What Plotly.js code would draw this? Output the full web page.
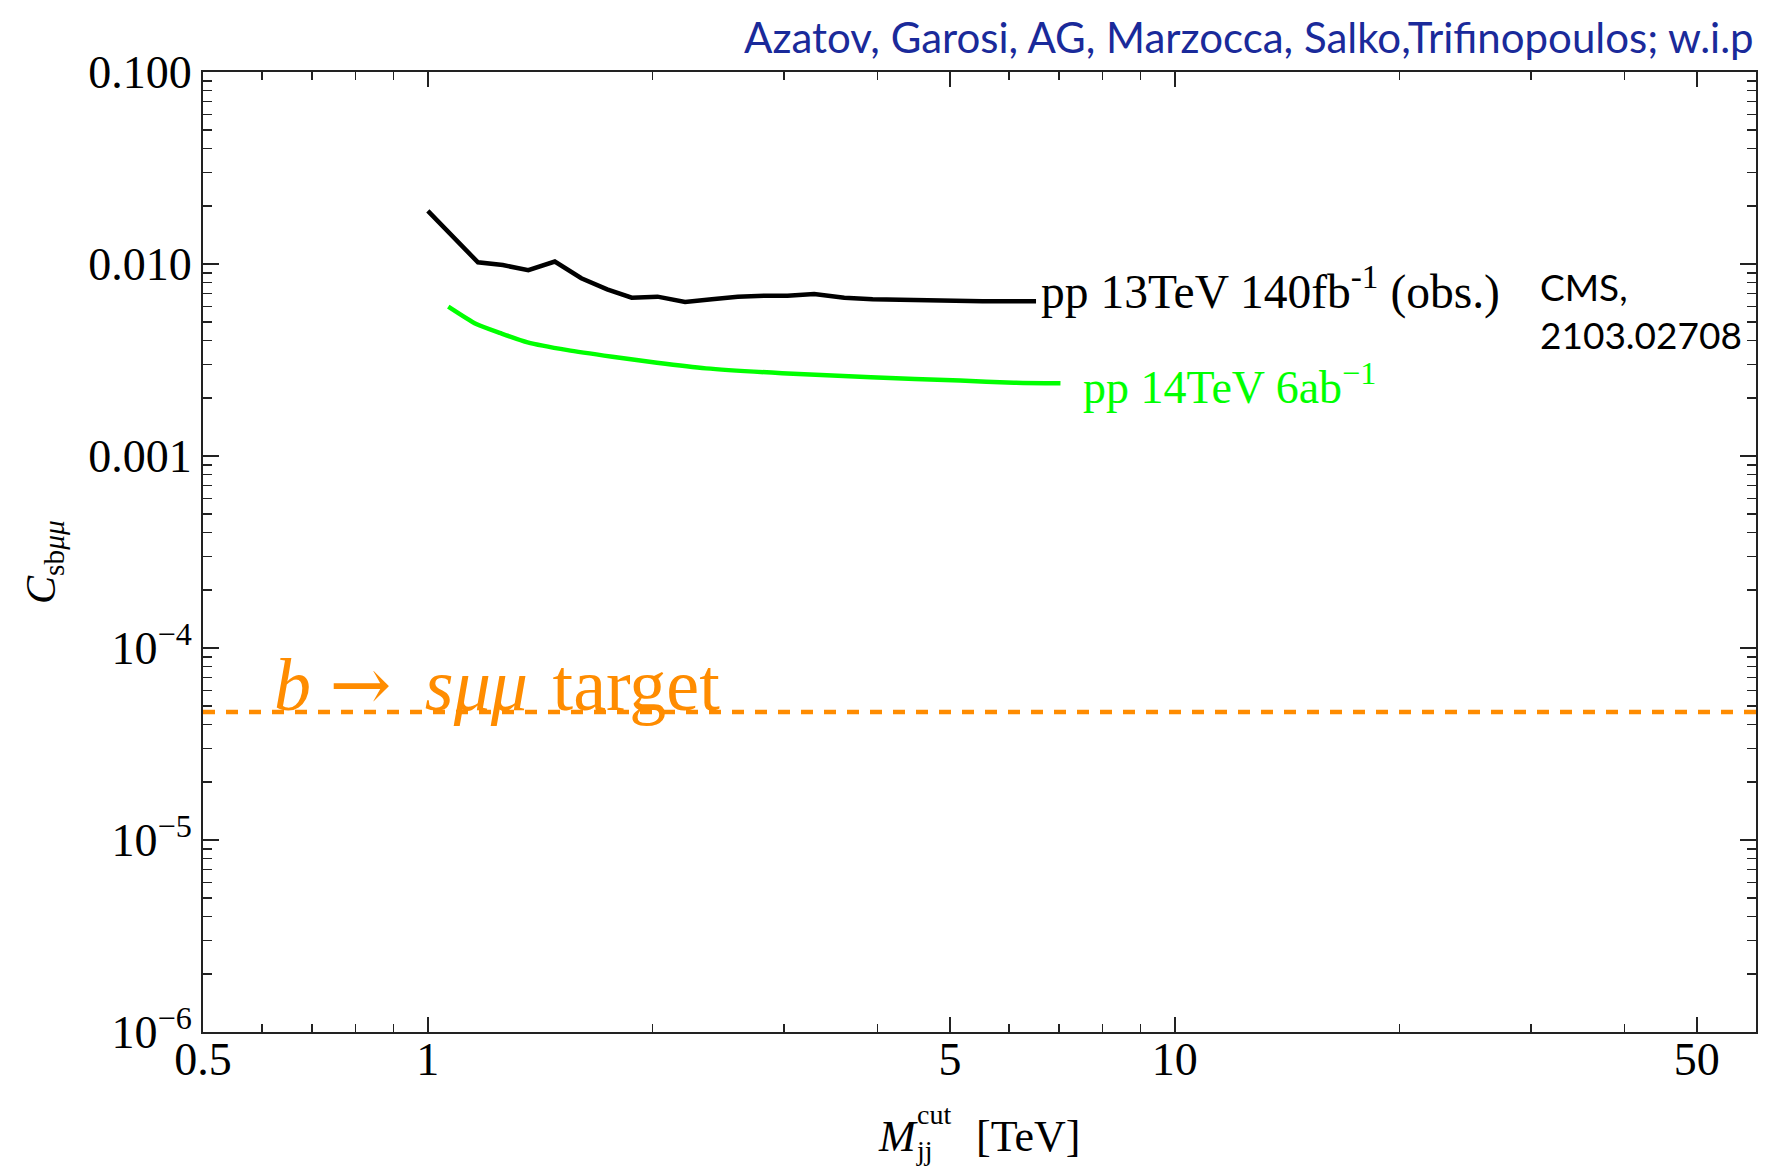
<!DOCTYPE html>
<html>
<head>
<meta charset="utf-8">
<script src="https://cdn.plot.ly/plotly-3.0.1.min.js"></script>
<style>html,body{margin:0;padding:0;background:#fff;}#chart{width:1767px;height:1166px;}</style>
</head>
<body>
<div id="chart"></div>
<script>
// ---- Data ----
const obsX = [1.0, 1.167, 1.26, 1.363, 1.479, 1.605, 1.738, 1.875, 2.03, 2.21, 2.40, 2.60, 2.82, 3.03, 3.29, 3.61, 3.94, 4.38, 4.89, 5.53, 6.52];
const obsY = [0.0189, 0.0102, 0.00987, 0.00929, 0.0103, 0.00843, 0.00738, 0.00668, 0.00676, 0.00634, 0.00655, 0.00676, 0.00684, 0.00684, 0.00698, 0.00668, 0.00656, 0.0065, 0.00643, 0.0064, 0.0064];
const hlX = [1.065, 1.161, 1.252, 1.36, 1.539, 1.766, 2.026, 2.357, 2.98, 3.92, 5.16, 6.09, 7.03];
const hlY = [0.0060, 0.00487, 0.00436, 0.00391, 0.00356, 0.00329, 0.00306, 0.00286, 0.00270, 0.00257, 0.00247, 0.00241, 0.00239];
const targetX = [0.5, 60];
const targetY = [4.64e-5, 4.64e-5];

const xTickVals = [0.5, 1, 5, 10, 50];
const xTickText = ["0.5", "1", "5", "10", "50"];
const xMinorVals = [0.6, 0.7, 0.8, 0.9, 2, 3, 4, 6, 7, 8, 9, 20, 30, 40];
const yTickVals = [1e-6, 1e-5, 1e-4, 1e-3, 1e-2, 1e-1];
const yTickText = ["10<sup>\u22126</sup>", "10<sup>\u22125</sup>", "10<sup>\u22124</sup>", "0.001", "0.010", "0.100"];
const yMinorVals = [];
[1e-6, 1e-5, 1e-4, 1e-3, 1e-2].forEach(d => { for (let k = 2; k <= 9; k++) yMinorVals.push(+(d * k).toPrecision(3)); });

// ---- Layout geometry ----
const W = 1767, H = 1166;
const L = 203, R = 11, T = 72, B = 134;
const PW = W - L - R, PH = H - T - B;
const px = x => (x - L) / PW;
const py = y => (H - B - y) / PH;

const serif = "Liberation Serif, Times New Roman, serif";
const sans = "Lato, Open Sans, sans-serif";

const traces = [
  { x: obsX, y: obsY, type: "scatter", mode: "lines", line: { color: "#000000", width: 4.5 }, hoverinfo: "skip" },
  { x: hlX, y: hlY, type: "scatter", mode: "lines", line: { color: "#00ff00", width: 4.5, shape: "spline", smoothing: 0.6 }, hoverinfo: "skip" },
  { x: targetX, y: targetY, type: "scatter", mode: "lines", line: { color: "#ff8c00", width: 4.5, dash: "12px,11px" }, hoverinfo: "skip" }
];

const layout = {
  width: W, height: H,
  margin: { l: L, r: R, t: T, b: B, pad: 0 },
  paper_bgcolor: "#ffffff", plot_bgcolor: "#ffffff",
  showlegend: false,
  xaxis: {
    type: "log", range: [Math.log10(0.5), Math.log10(60)],
    tickmode: "array", tickvals: xTickVals, ticktext: xTickText,
    ticks: "inside", ticklen: 15, tickwidth: 1.5, tickcolor: "#222",
    ticklabelstandoff: -14,
    minor: { tickmode: "array", tickvals: xMinorVals, ticks: "inside", ticklen: 8, tickwidth: 1.5, tickcolor: "#222", showgrid: false },
    showline: true, linecolor: "#222", linewidth: 2, mirror: "allticks",
    showgrid: false, zeroline: false,
    tickfont: { family: serif, size: 46, color: "#000" }
  },
  yaxis: {
    type: "log", range: [-6, -1],
    tickmode: "array", tickvals: yTickVals, ticktext: yTickText,
    ticks: "inside", ticklen: 16, tickwidth: 1.5, tickcolor: "#222",
    minor: { tickmode: "array", tickvals: yMinorVals, ticks: "inside", ticklen: 9, tickwidth: 1.5, tickcolor: "#222", showgrid: false },
    showline: true, linecolor: "#222", linewidth: 2, mirror: "allticks",
    showgrid: false, zeroline: false,
    tickfont: { family: serif, size: 46, color: "#000" }
  },
  annotations: [
    { xref: "paper", yref: "paper", x: px(1756), y: py(37), xanchor: "right", yanchor: "middle",
      text: "Azatov, Garosi, AG, Marzocca, Salko,Trifinopoulos; w.i.p", showarrow: false,
      font: { family: sans, size: 42, color: "#1a2a9a" } },
    { xref: "paper", yref: "paper", x: px(1039), y: py(288), xanchor: "left", yanchor: "middle",
      text: "pp 13TeV 140fb<sup>-1</sup> (obs.)", showarrow: false,
      font: { family: serif, size: 47.5, color: "#000" } },
    { xref: "paper", yref: "paper", x: px(1538), y: py(310), xanchor: "left", yanchor: "middle", align: "left",
      text: "CMS,<br>2103.02708", showarrow: false,
      font: { family: sans, size: 37, color: "#000" } },
    { xref: "paper", yref: "paper", x: px(1081), y: py(384), xanchor: "left", yanchor: "middle",
      text: "pp 14TeV 6ab<sup>\u22121</sup>", showarrow: false,
      font: { family: serif, size: 46, color: "#00ff00" } },
    { xref: "paper", yref: "paper", x: px(272), y: py(684), xanchor: "left", yanchor: "middle",
      text: "<i>b</i> <span style=\"font-family:'DejaVu Serif'\">\u2192</span> \u2009<i>s\u03bc\u03bc</i> \u200atarget", showarrow: false,
      font: { family: serif, size: 74, color: "#ff8c00" } },
    { xref: "paper", yref: "paper", x: px(44), y: py(562), xanchor: "center", yanchor: "middle", textangle: -90,
      text: "<i>C</i><sub>sb<i>\u03bc\u03bc</i></sub>", showarrow: false,
      font: { family: serif, size: 42, color: "#000" } },
    { xref: "paper", yref: "paper", x: px(876), y: py(1136), xanchor: "left", yanchor: "middle",
      text: "<i>M</i>", showarrow: false,
      font: { family: serif, size: 44, color: "#000" } },
    { xref: "paper", yref: "paper", x: px(914), y: py(1132), xanchor: "left", yanchor: "middle", align: "left",
      text: "cut<br>jj", showarrow: false,
      font: { family: serif, size: 28, color: "#000" } },
    { xref: "paper", yref: "paper", x: px(974), y: py(1136), xanchor: "left", yanchor: "middle",
      text: "[TeV]", showarrow: false,
      font: { family: serif, size: 44, color: "#000" } }
  ]
};

Plotly.newPlot("chart", traces, layout, { staticPlot: true, displayModeBar: false });
</script>
</body>
</html>
